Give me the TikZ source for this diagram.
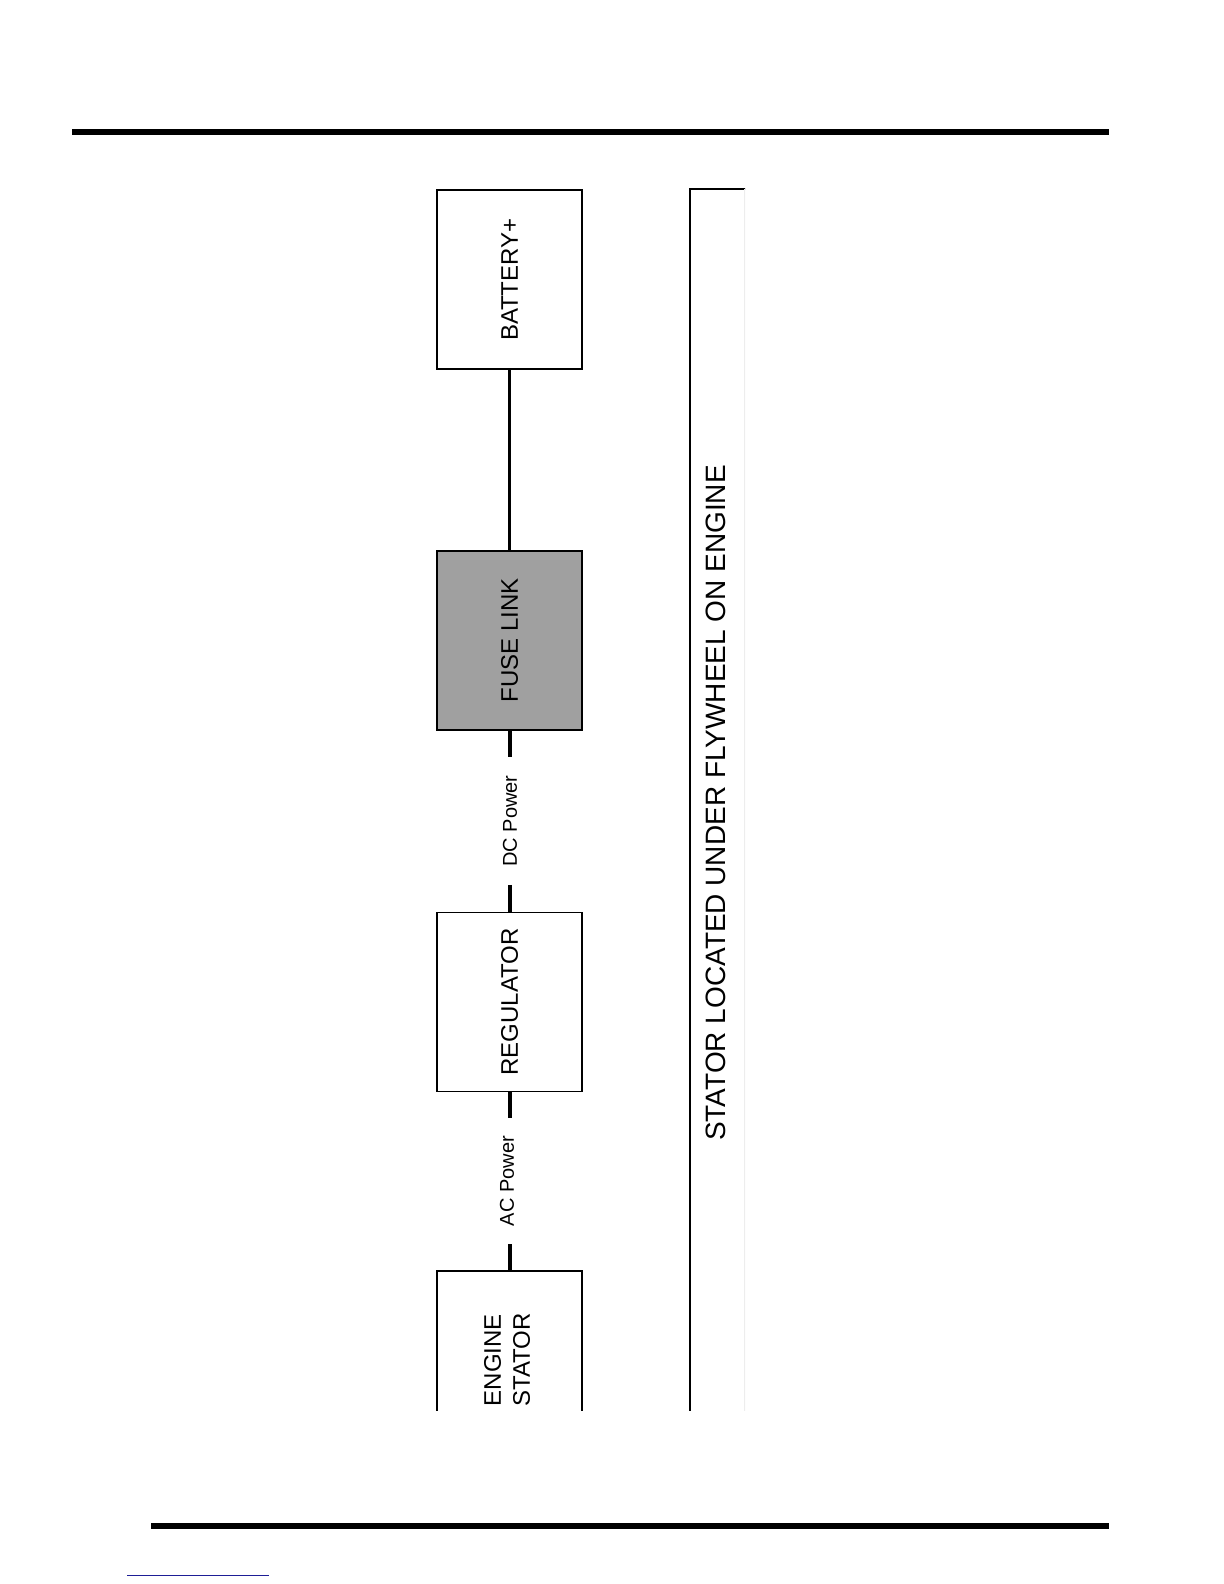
\documentclass[tikz,border=0pt]{standalone}
\usepackage{fontspec}
\setmainfont{Liberation Sans}
\definecolor{fusegray}{RGB}{160,160,160}
\definecolor{linkblue}{RGB}{30,30,150}
\begin{document}
\begin{tikzpicture}[x=0.5pt,y=-0.5pt,
  box/.style={draw=black, line width=0.9pt, minimum width=72.8pt, minimum height=89.5pt, inner sep=0pt,
    font=\fontsize{12pt}{14.5pt}\selectfont},
  flow/.style={inner xsep=2pt, inner ysep=9pt, font=\fontsize{10pt}{12pt}\selectfont},
  thickwire/.style={line width=2pt},
  thinwire/.style={line width=1.1pt},
  rule/.style={line width=3pt}]
\useasboundingbox (0,0) rectangle (1224,1584);
% page rules
\draw[rule] (72,131.7) -- (1109,131.7);
\draw[rule] (151,1526) -- (1109,1526);
\draw[linkblue, line width=0.6pt] (127,1575.3) -- (269,1575.3);
\begin{scope}
\clip (0,0) rectangle (745,1410.7);
% stator bar
\draw[line width=0.9pt] (690,189.3) rectangle (820,1450);
\node[font=\fontsize{14pt}{17pt}\selectfont] (statortext) at (716,803) {\rotatebox{90}{STATOR LOCATED UNDER FLYWHEEL ON ENGINE}};
% boxes
\node[box] (battery) at (509.5,279.7) {\rotatebox{90}{BATTERY+}};
\node[box, fill=fusegray] (fuse) at (509.5,640.3) {\rotatebox{90}{FUSE LINK}};
\node[box] (reg) at (509.5,1001.9) {\rotatebox{90}{REGULATOR}};
\node[box] (engine) at (509.5,1360.2) {\rotatebox{90}{\begin{tabular}{@{}c@{}}ENGINE\\STATOR\end{tabular}}};
% flow labels
\node[flow] (dc) at (510,821) {\rotatebox{90}{DC Power}};
\node[flow] (ac) at (507,1181) {\rotatebox{90}{AC Power}};
% connectors
\draw[thinwire] (battery.south) -- (fuse.north);
\draw[thickwire] (fuse.south) -- (fuse.south |- dc.north);
\draw[thickwire] (reg.north |- dc.south) -- (reg.north);
\draw[thickwire] (reg.south) -- (reg.south |- ac.north);
\draw[thickwire] (engine.north |- ac.south) -- (engine.north);
% faint clip edge
\draw[black!7, line width=0.6pt] (745,189.3) -- (745,1410.7);
\end{scope}
\end{tikzpicture}
\end{document}
